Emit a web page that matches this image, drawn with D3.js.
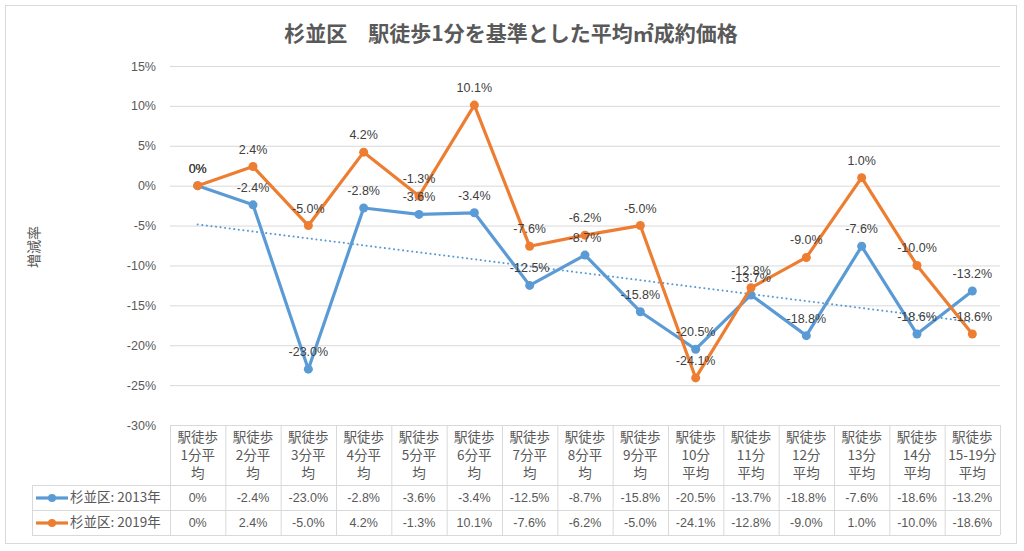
<!DOCTYPE html>
<html><head><meta charset="utf-8">
<script src="https://cdn.jsdelivr.net/npm/d3@7"></script>
<style>body{margin:0;background:#fff;font-family:"Noto Sans CJK JP","Noto Sans",sans-serif;}</style>
</head><body><svg id="c" width="1024" height="551"></svg>
<script>
const categories = ["駅徒歩1分平均","駅徒歩2分平均","駅徒歩3分平均","駅徒歩4分平均","駅徒歩5分平均","駅徒歩6分平均","駅徒歩7分平均","駅徒歩8分平均","駅徒歩9分平均","駅徒歩10分平均","駅徒歩11分平均","駅徒歩12分平均","駅徒歩13分平均","駅徒歩14分平均","駅徒歩15-19分平均"];
const headerLines = [["駅徒歩","1分平","均"],["駅徒歩","2分平","均"],["駅徒歩","3分平","均"],["駅徒歩","4分平","均"],["駅徒歩","5分平","均"],["駅徒歩","6分平","均"],["駅徒歩","7分平","均"],["駅徒歩","8分平","均"],["駅徒歩","9分平","均"],["駅徒歩","10分","平均"],["駅徒歩","11分","平均"],["駅徒歩","12分","平均"],["駅徒歩","13分","平均"],["駅徒歩","14分","平均"],["駅徒歩","15-19分","平均"]];
const s2013 = [0,-2.4,-23.0,-2.8,-3.6,-3.4,-12.5,-8.7,-15.8,-20.5,-13.7,-18.8,-7.6,-18.6,-13.2];
const s2019 = [0,2.4,-5.0,4.2,-1.3,10.1,-7.6,-6.2,-5.0,-24.1,-12.8,-9.0,1.0,-10.0,-18.6];
const seriesNames = ["杉並区: 2013年","杉並区: 2019年"];
const yTicks = [15,10,5,0,-5,-10,-15,-20,-25,-30];
const colors = ["#5B9BD5","#ED7D31"];

(function(){
const svg = d3.select("#c");
const fmt = v => v === 0 ? "0%" : v.toFixed(1) + "%";
const pLeft = 170, pRight = 1000, pTop = 66, pBottom = 425;
const x = d3.scaleBand().domain(categories).range([pLeft, pRight]);
const y = d3.scaleLinear().domain([-30, 15]).range([pBottom, pTop]);
const cx = c => x(c) + x.bandwidth()/2;

svg.append("rect").attr("x",5.5).attr("y",5.5).attr("width",1011).attr("height",538)
  .attr("fill","#fff").attr("stroke","#d9d9d9");

svg.append("text").attr("x",511).attr("y",41).attr("text-anchor","middle")
  .attr("font-size",21).attr("font-weight","bold").attr("fill","#595959")
  .text("杉並区　駅徒歩1分を基準とした平均㎡成約価格");

svg.append("g").selectAll("line").data(yTicks).join("line")
  .attr("x1",pLeft).attr("x2",pRight).attr("y1",d=>y(d)+0.5).attr("y2",d=>y(d)+0.5)
  .attr("stroke","#d9d9d9");

const yAxis = d3.axisLeft(y).tickValues(yTicks).tickFormat(d=>d+"%").tickSize(0).tickPadding(0);
const ga = svg.append("g").attr("transform",`translate(${pLeft-14},0)`).call(yAxis);
ga.select(".domain").remove();
ga.selectAll("text").attr("font-size",12.5).attr("fill","#595959").attr("font-family","Liberation Sans, Arial, sans-serif");

svg.append("text").attr("transform","translate(39,247) rotate(-90)").attr("text-anchor","middle")
  .attr("font-size",14).attr("fill","#595959").text("増減率");

const n = s2013.length;
const xs = d3.range(1,n+1);
const mx = d3.mean(xs), my = d3.mean(s2013);
const slope = d3.sum(xs.map((xi,i)=>(xi-mx)*(s2013[i]-my))) / d3.sum(xs.map(xi=>(xi-mx)**2));
const icpt = my - slope*mx;
svg.append("line")
  .attr("x1",cx(categories[0])).attr("y1",y(icpt+slope*1))
  .attr("x2",cx(categories[n-1])).attr("y2",y(icpt+slope*n))
  .attr("stroke",colors[0]).attr("stroke-width",2).attr("stroke-dasharray","0.1,4.5").attr("stroke-linecap","round");

const line = d3.line().x((d,i)=>cx(categories[i])).y(d=>y(d));
[s2013, s2019].forEach((s,k)=>{
  svg.append("path").datum(s).attr("d",line).attr("fill","none")
    .attr("stroke",colors[k]).attr("stroke-width",3.2).attr("stroke-linejoin","round");
  svg.append("g").selectAll("circle").data(s).join("circle")
    .attr("cx",(d,i)=>cx(categories[i])).attr("cy",d=>y(d)).attr("r",4.5).attr("fill",colors[k]);
});
[s2013, s2019].forEach((s,k)=>{
  svg.append("g").selectAll("text").data(s).join("text")
    .attr("x",(d,i)=>cx(categories[i])).attr("y",d=>y(d)-13)
    .attr("text-anchor","middle").attr("font-size",12.5).attr("fill","#404040")
    .attr("font-family","Liberation Sans, Arial, sans-serif")
    .text(d=>fmt(d));
});

const tTop = pBottom, hBottom = 485, r1 = 510, r2 = 535, tLeft = 32;
const grid = svg.append("g").attr("stroke","#d9d9d9").attr("fill","none");
categories.forEach(c=>{
  grid.append("line").attr("x1",x(c)+0.5).attr("x2",x(c)+0.5).attr("y1",tTop).attr("y2",r2);
});
grid.append("line").attr("x1",pRight+0.5).attr("x2",pRight+0.5).attr("y1",tTop).attr("y2",r2);
grid.append("line").attr("x1",tLeft+0.5).attr("x2",tLeft+0.5).attr("y1",hBottom).attr("y2",r2);
[hBottom, r1, r2].forEach(yy=>{
  grid.append("line").attr("x1",tLeft).attr("x2",pRight).attr("y1",yy+0.5).attr("y2",yy+0.5);
});

categories.forEach((c,i)=>{
  const t = svg.append("text").attr("text-anchor","middle").attr("font-size",13.5).attr("fill","#595959");
  headerLines[i].forEach((ln,j)=>{
    t.append("tspan").attr("x",cx(c)).attr("y",tTop+17+j*18).text(ln);
  });
});

[s2013, s2019].forEach((s,k)=>{
  const yy = (k===0 ? hBottom : r1) + 17;
  svg.append("g").selectAll("text").data(s).join("text")
    .attr("x",(d,i)=>cx(categories[i])).attr("y",yy)
    .attr("text-anchor","middle").attr("font-size",12.5).attr("fill","#595959")
    .attr("font-family","Liberation Sans, Arial, sans-serif")
    .text(d=>fmt(d));
  const ly = yy - 4;
  svg.append("line").attr("x1",36).attr("x2",68).attr("y1",ly).attr("y2",ly)
    .attr("stroke",colors[k]).attr("stroke-width",3.2);
  svg.append("circle").attr("cx",52).attr("cy",ly).attr("r",4).attr("fill",colors[k]);
  svg.append("text").attr("x",70).attr("y",yy).attr("font-size",13.5).attr("fill","#595959")
    .text(seriesNames[k]);
});
})();
</script></body></html>
